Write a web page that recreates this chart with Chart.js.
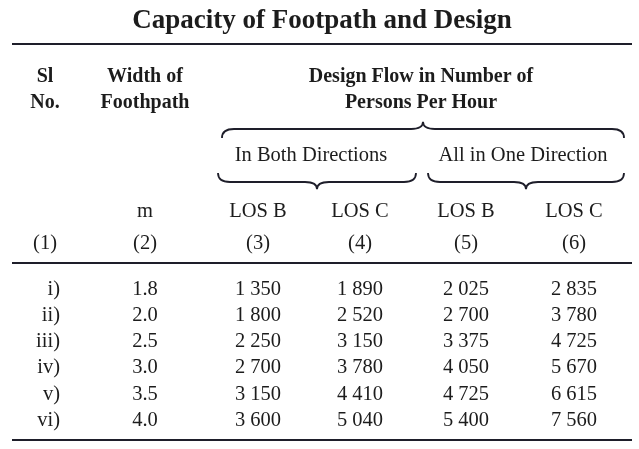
<!DOCTYPE html>
<html><head><meta charset="utf-8">
<script src="https://cdn.jsdelivr.net/npm/chart.js@4.4.0/dist/chart.umd.min.js"></script>
<style>html,body{margin:0;padding:0;background:#fff}#w{width:639px;height:449px}</style>
</head><body><div id="w"><canvas id="c"></canvas></div>
<script>
const title = "Capacity of Footpath and Design";
const slNo = ["i)","ii)","iii)","iv)","v)","vi)"];
const widths = ["1.8","2.0","2.5","3.0","3.5","4.0"];
const losBBoth = ["1 350","1 800","2 250","2 700","3 150","3 600"];
const losCBoth = ["1 890","2 520","3 150","3 780","4 410","5 040"];
const losBOne = ["2 025","2 700","3 375","4 050","4 725","5 400"];
const losCOne = ["2 835","3 780","4 725","5 670","6 615","7 560"];
const colNums = ["(1)","(2)","(3)","(4)","(5)","(6)"];
const colX = [60,145,258,360,466,574];
const rowY = [288,314,340,366,393,419];

const tablePlugin = {
  id:'table',
  afterDraw(chart){
    const ctx=chart.ctx, xs=chart.scales.x, ys=chart.scales.y;
    const X=v=>xs.getPixelForValue(v), Y=v=>ys.getPixelForValue(v);
    const ink='#1c1c1c', line='#1e1e2a';
    ctx.save();
    ctx.fillStyle=ink; ctx.textBaseline='middle';
    function t(s,x,y,font,align){ctx.font=font;ctx.textAlign=align||'center';ctx.fillText(s,X(x),Y(y+1.5));}
    const B='bold 20px "Liberation Serif"', N='20.5px "Liberation Serif"';
    t(title,322,20,'bold 27px "Liberation Serif"');
    ctx.strokeStyle=line; ctx.lineWidth=2;
    [[44],[263],[440]].forEach(([y])=>{ctx.beginPath();ctx.moveTo(X(12),Y(y));ctx.lineTo(X(632),Y(y));ctx.stroke();});
    t("Sl",45,75,B); t("No.",45,101,B);
    t("Width of",145,75,B); t("Foothpath",145,101,B);
    t("Design Flow in Number of",421,75,B); t("Persons Per Hour",421,101,B);
    t("In Both Directions",311,154,N); t("All in One Direction",523,154,N);
    t("m",145,210,N);
    ["LOS B","LOS C","LOS B","LOS C"].forEach((s,i)=>t(s,colX[i+2],210,N));
    colNums.forEach((s,i)=>t(s,i==0?45:colX[i],242,N));
    const cols=[widths,losBBoth,losCBoth,losBOne,losCOne];
    rowY.forEach((y,r)=>{
      t(slNo[r],60,y,N,'right');
      cols.forEach((c,i)=>t(c[r],colX[i+1],y,N));
    });
    function brace(x1,x2,y,up){
      const d=up?-1:1, h=9, m=(x1+x2)/2;
      ctx.lineWidth=1.8; ctx.beginPath();
      ctx.moveTo(X(x1),Y(y+d*h));
      ctx.quadraticCurveTo(X(x1),Y(y),X(x1+12),Y(y));
      ctx.lineTo(X(m-12),Y(y));
      ctx.quadraticCurveTo(X(m),Y(y),X(m),Y(y-d*h*0.8));
      ctx.quadraticCurveTo(X(m),Y(y),X(m+12),Y(y));
      ctx.lineTo(X(x2-12),Y(y));
      ctx.quadraticCurveTo(X(x2),Y(y),X(x2),Y(y+d*h));
      ctx.stroke();
    }
    brace(222,624,129,false);
    brace(218,416,182,true);
    brace(428,624,182,true);
    ctx.restore();
  }
};
new Chart(document.getElementById('c'),{
  type:'scatter',
  data:{datasets:[{data:rowY.map((y,i)=>({x:colX[1],y})),pointRadius:0}]},
  options:{responsive:true,maintainAspectRatio:false,animation:false,
    layout:{padding:0},
    plugins:{legend:{display:false},tooltip:{enabled:false}},
    scales:{x:{type:'linear',min:0,max:639,display:false},
            y:{type:'linear',min:0,max:449,reverse:true,display:false}}},
  plugins:[tablePlugin]
});
</script></body></html>
